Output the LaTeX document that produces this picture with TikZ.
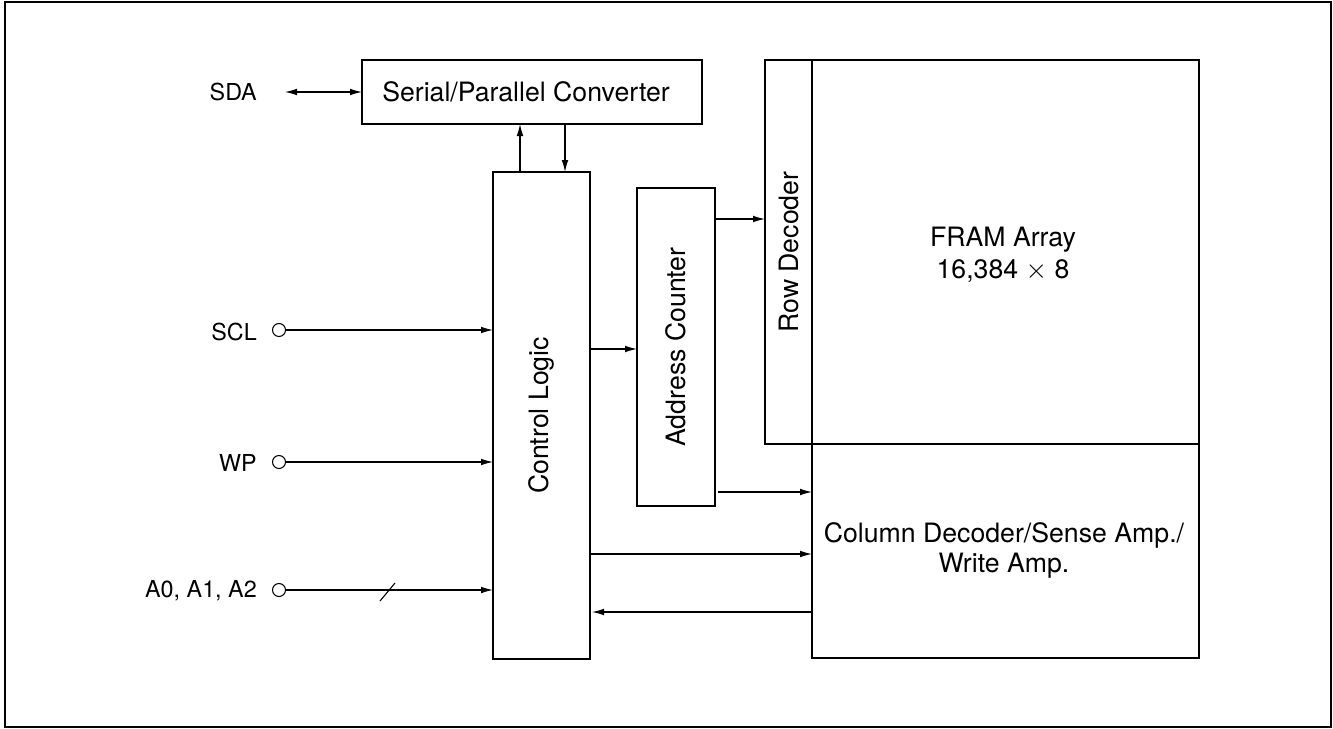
\documentclass[tikz,border=0pt]{standalone}
\usepackage{fontspec}
\setmainfont{TeX Gyre Heros}
\usetikzlibrary{arrows.meta}
\begin{document}
\begin{tikzpicture}[x=0.75pt,y=-0.75pt,
  blk/.style={draw,line width=1.5pt,rectangle,inner sep=0pt,outer sep=0pt,
    font=\fontsize{20}{23}\selectfont,align=center},
  lbl/.style={inner sep=0pt,anchor=east,font=\fontsize{17.5}{20}\selectfont},
  pin/.style={draw,circle,line width=0.8pt,minimum size=13*0.75pt,inner sep=0pt,outer sep=0pt},
  conn/.style={line width=0.8pt,-{Latex[length=9pt,width=5pt]}},
  bconn/.style={line width=0.8pt,{Latex[length=9pt,width=5pt]}-{Latex[length=9pt,width=5pt]}}]
\useasboundingbox (0,0) rectangle (1333,728);
\draw[line width=1.5pt] (5,2) rectangle (1331,726.5);

\node[blk,minimum width=340*0.75pt,minimum height=64*0.75pt] (spc) at (532,92) {\hspace*{-9pt}Serial/Parallel Converter};
\node[blk,minimum width=97*0.75pt,minimum height=487*0.75pt] (ctrl) at (541.5,415.5) {};
\node[rotate=90,font=\fontsize{20}{23}\selectfont] (ctrlt) at (ctrl.center) {Control Logic};
\node[blk,minimum width=78*0.75pt,minimum height=318*0.75pt] (addr) at (676,347) {};
\node[rotate=90,font=\fontsize{20}{23}\selectfont] (addrt) at (addr.center) {Address Counter};
\node[blk,minimum width=47*0.75pt,minimum height=384*0.75pt] (row) at (788.5,252) {};
\node[rotate=90,font=\fontsize{20}{23}\selectfont] (rowt) at (row.center) {Row Decoder};
\node[blk,minimum width=387*0.75pt,minimum height=384*0.75pt] (fram) at (1005.5,252) {};
\node[font=\fontsize{20}{24}\selectfont,align=center] (framt) at (1003,255) {FRAM Array\\16,384 $\times$ 8};
\node[blk,minimum width=387*0.75pt,minimum height=214*0.75pt] (col) at (1005.5,551) {};
\node[font=\fontsize{20}{22.5}\selectfont,align=center] (colt) at (1004,550) {Column Decoder/Sense Amp./\\Write Amp.};

% pins
\node[lbl] (sda) at (257,92) {SDA};
\coordinate (sdaend) at (285,92);
\node[pin] (sclp) at (279,330) {};
\node[lbl] (scl) at (257,332) {SCL};
\node[pin] (wpp) at (279,462) {};
\node[lbl] (wp) at (257,463) {WP};
\node[pin] (ap) at (279,590) {};
\node[lbl] (a) at (257,591) {A0, A1, A2};

% connectors
\draw[bconn] (sdaend) -- (spc.west);
\draw[conn] (ctrl.north -| 520,0) -- (spc.south -| 520,0);
\draw[conn] (spc.south -| 565,0) -- (ctrl.north -| 565,0);
\draw[conn] (sclp.east) -- (ctrl.west |- sclp.east);
\draw[conn] (wpp.east) -- (ctrl.west |- wpp.east);
\draw[conn] (ap.east) -- (ctrl.west |- ap.east);
\draw[line width=0.8pt] (380,601) -- (395,583);
\draw[conn] (ctrl.east |- 0,349) -- (addr.west |- 0,349);
\draw[conn] (addr.east |- 0,219) -- (row.west |- 0,219);
\draw[conn] ([xshift=2.25pt]addr.east |- 0,492) -- (col.west |- 0,492);
\draw[conn] (ctrl.east |- 0,554) -- (col.west |- 0,554);
\draw[conn] (col.west |- 0,612) -- ([xshift=1.5pt]ctrl.east |- 0,612);
\end{tikzpicture}
\end{document}
